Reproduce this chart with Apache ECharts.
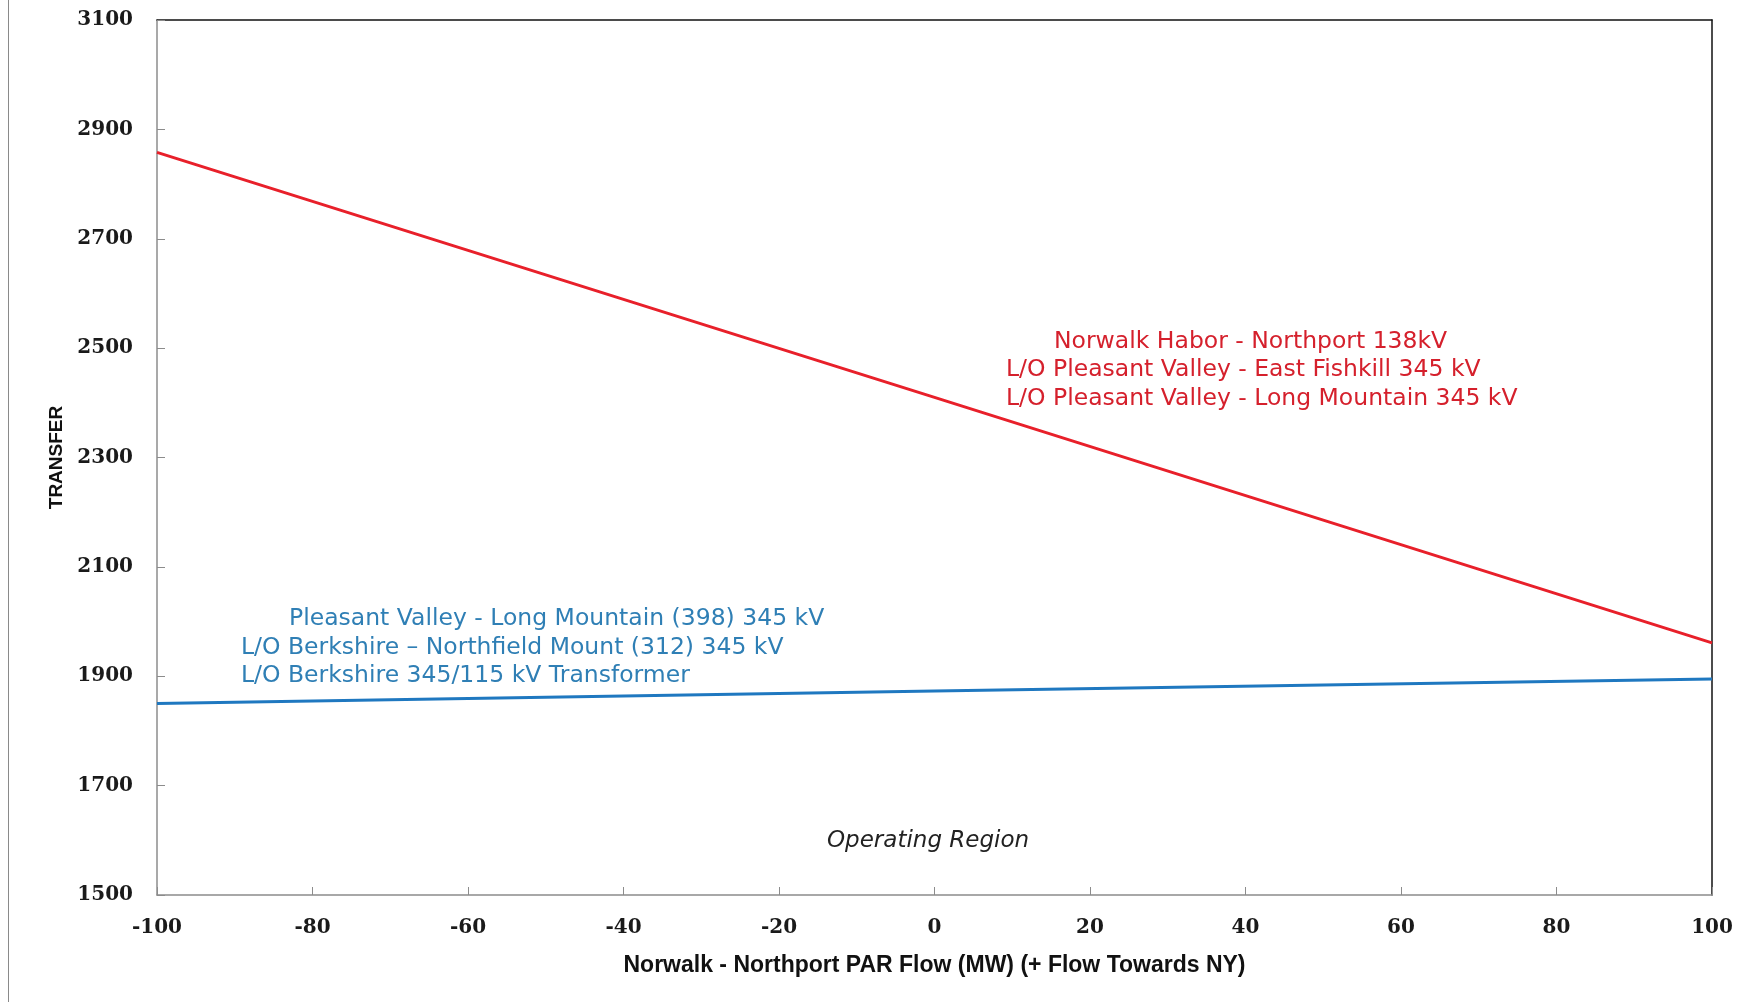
<!DOCTYPE html>
<html><head><meta charset="utf-8">
<script src="https://cdn.jsdelivr.net/npm/echarts@6/dist/echarts.min.js"></script>
<style>html,body{margin:0;padding:0;background:#fff}#c{width:1756px;height:1007px}</style>
</head><body><div id="c"></div>
<script>
const xValues = [-100, 0, 100];
const redValues = [2858, 2410, 1961];
const blueValues = [1850, 1873, 1895];
const xTicks = {min: -100, max: 100, interval: 20};
const yTicks = {min: 1500, max: 3100, interval: 200};
const redLabels = ['Norwalk Habor - Northport 138kV', 'L/O Pleasant Valley - East Fishkill 345 kV', 'L/O Pleasant Valley - Long Mountain 345 kV'];
const blueLabels = ['Pleasant Valley - Long Mountain (398) 345 kV', 'L/O Berkshire \u2013 Northfield Mount (312) 345 kV', 'L/O Berkshire 345/115 kV Transformer'];
const regionLabel = 'Operating Region';

const chart = echarts.init(document.getElementById('c'), null, {renderer: 'canvas'});
const tickFont = {fontFamily: 'DejaVu Serif', fontWeight: 'bold', fontSize: 20, color: '#1a1a1a', formatter: v => String(v)};
const annFont = 'DejaVu Sans';
function pairs(xs, ys){ return xs.map((x,i)=>[x, ys[i]]); }
function textEl(txt, x, y, color){
  return {type:'text', left: x, top: y, style:{text: txt, fill: color, font: '23.5px "' + annFont + '"'}};
}
const graphics = [
  {type:'line', shape:{x1:8.5,y1:0,x2:8.5,y2:1002}, style:{stroke:'#8a8a8a', lineWidth:1}},
  textEl(redLabels[0], 1054, 330, '#d5202c'),
  textEl(redLabels[1], 1006, 358, '#d5202c'),
  textEl(redLabels[2], 1006, 387, '#d5202c'),
  textEl(blueLabels[0], 289, 607, '#2f7fb5'),
  textEl(blueLabels[1], 241, 636, '#2f7fb5'),
  textEl(blueLabels[2], 241, 664, '#2f7fb5'),
  {type:'text', left: 827, top: 830, style:{text: regionLabel, fill:'#222', font:'italic 23px "DejaVu Sans"'}}
];
chart.setOption({
  animation: false,
  grid: {left: 157, right: 44, top: 20, bottom: 112},
  xAxis: [{
    type: 'value', min: xTicks.min, max: xTicks.max, interval: xTicks.interval,
    name: 'Norwalk - Northport PAR Flow (MW) (+ Flow Towards NY)', nameLocation: 'middle', nameGap: 59,
    nameTextStyle: {fontFamily: 'Liberation Sans', fontWeight: 'bold', fontSize: 23, color: '#111'},
    axisLine: {show: true, onZero: false, lineStyle: {color: '#8c8c8c', width: 1.5}},
    axisTick: {show: true, inside: true, length: 8, lineStyle: {color: '#8c8c8c'}},
    axisLabel: Object.assign({margin: 23}, tickFont),
    splitLine: {show: false}
  }, {
    type: 'value', position: 'top', min: xTicks.min, max: xTicks.max,
    axisLine: {show: true, onZero: false, lineStyle: {color: '#111', width: 1.5}},
    axisTick: {show: false}, axisLabel: {show: false}, splitLine: {show: false}
  }],
  yAxis: [{
    type: 'value', min: yTicks.min, max: yTicks.max, interval: yTicks.interval,
    name: 'TRANSFER', nameLocation: 'middle', nameGap: 86, nameRotate: 90,
    nameTextStyle: {fontFamily: 'Liberation Sans', fontWeight: 'bold', fontSize: 19, color: '#111'},
    axisLine: {show: true, onZero: false, lineStyle: {color: '#8c8c8c', width: 1.5}},
    axisTick: {show: true, inside: true, length: 8, lineStyle: {color: '#8c8c8c'}},
    axisLabel: Object.assign({margin: 24}, tickFont),
    splitLine: {show: false}
  }, {
    type: 'value', position: 'right', min: yTicks.min, max: yTicks.max,
    axisLine: {show: true, onZero: false, lineStyle: {color: '#111', width: 1.5}},
    axisTick: {show: false}, axisLabel: {show: false}, splitLine: {show: false}
  }],
  series: [
    {type: 'line', data: pairs(xValues, redValues), symbol: 'none', lineStyle: {color: '#e8202a', width: 3}},
    {type: 'line', data: pairs(xValues, blueValues), symbol: 'none', lineStyle: {color: '#1f78c0', width: 3}}
  ],
  graphic: graphics
});
</script></body></html>
